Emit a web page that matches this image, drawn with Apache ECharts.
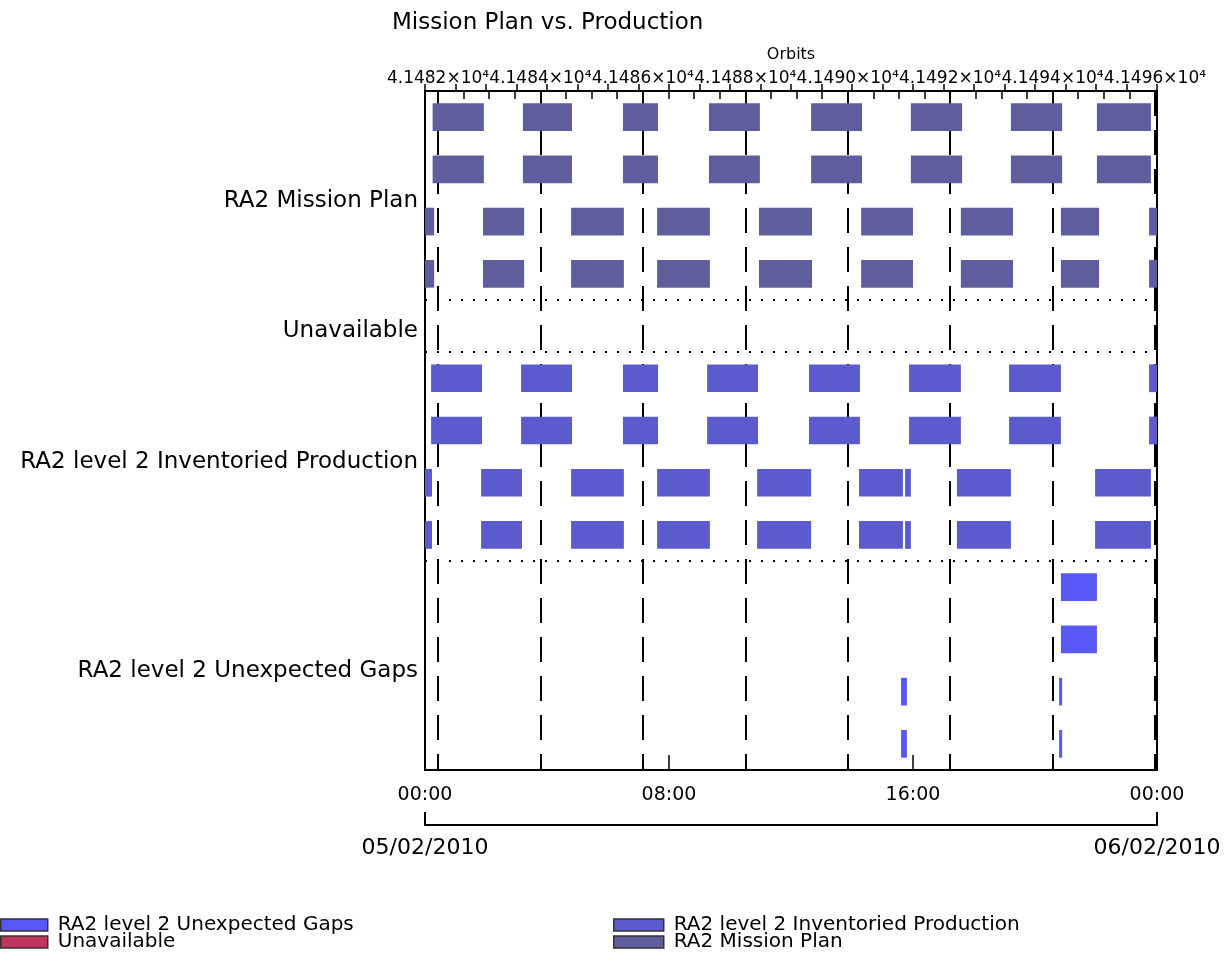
<!DOCTYPE html>
<html><head><meta charset="utf-8">
<script src="https://cdn.jsdelivr.net/npm/echarts@6/dist/echarts.min.js"></script>
<style>html,body{margin:0;padding:0;background:#fff}#c{width:1226px;height:964px}</style>
</head><body><div id="c"></div>
<script>
// ---------- data ----------
const chartTitle = 'Mission Plan vs. Production';
const groupNames = ['RA2 Mission Plan', 'Unavailable', 'RA2 level 2 Inventoried Production', 'RA2 level 2 Unexpected Gaps'];
const timeLabels = ['00:00', '08:00', '16:00', '00:00'];
const dateLabels = ['05/02/2010', '06/02/2010'];
const orbitAxisName = 'Orbits';
const firstOrbit = 41482;
const lastOrbit = 41496;
const firstOrbitHour = 0.426;      // hour of day at which orbit 41482 starts
const orbitPeriodHours = 1.679;    // orbit length in hours

// bars as [start hour, end hour] (05/02/2010)
const planTrackA = [[0.25,1.93],[3.21,4.82],[6.49,7.64],[9.31,10.98],[12.66,14.33],[15.93,17.61],[19.21,20.89],[22.03,23.80]];
const planTrackB = [[0,0.30],[1.90,3.25],[4.79,6.52],[7.61,9.34],[10.95,12.69],[14.30,16.00],[17.57,19.28],[20.85,22.10],[23.74,24]];
const unavailableTrack = [];
const prodTrackA = [[0.20,1.87],[3.15,4.82],[6.49,7.64],[9.25,10.92],[12.59,14.26],[15.87,17.57],[19.15,20.85],[23.74,24]];
const prodTrackB = [[0,0.23],[1.84,3.18],[4.79,6.52],[7.61,9.34],[10.89,12.66],[14.23,15.67],[15.74,15.93],[17.44,19.21],[21.97,23.80]];
const gapTrackA = [[20.85,22.03]];
const gapTrackB = [[15.61,15.80],[20.79,20.89]];

// each group lists its rows (tracks), top to bottom
const planRows = [planTrackA, planTrackA, planTrackB, planTrackB];
const unavailableRows = [unavailableTrack];
const prodRows = [prodTrackA, prodTrackA, prodTrackB, prodTrackB];
const gapRows = [gapTrackA, gapTrackA, gapTrackB, gapTrackB];

// ---------- build ----------
const FONT = 'DejaVu Sans';
const colors = {
  'RA2 Mission Plan': '#5e5e9c',
  'Unavailable': '#c2335f',
  'RA2 level 2 Inventoried Production': '#5b5bcd',
  'RA2 level 2 Unexpected Gaps': '#5858f4'
};
const groups = [planRows, unavailableRows, prodRows, gapRows];
const groupStart = [];
let acc = 0;
groups.forEach(g => { groupStart.push(acc); acc += g.length; });
const totalRows = acc;
const labelDrop = 0.1; // labels sit slightly below the middle of their band
const labelPos = groups.map((g, i) => groupStart[i] + g.length / 2 + labelDrop);
const separators = groupStart.slice(1);

const orbitMin = firstOrbit - firstOrbitHour / orbitPeriodHours;
const orbitMax = firstOrbit + (24 - firstOrbitHour) / orbitPeriodHours;
const orbitMajor = [], orbitMinor = [];
for (let o = firstOrbit; o <= lastOrbit + 1e-9; o += 2) orbitMajor.push(o);
for (let o = firstOrbit; o <= orbitMax; o += 0.5) orbitMinor.push(o);

function rowsToData(rows, start) {
  const out = [];
  rows.forEach((track, i) => track.forEach(([s, e]) => out.push([s, e, start + i])));
  return out;
}

function renderBar(params, api) {
  const s = api.value(0), e = api.value(1), r = api.value(2);
  const p0 = api.coord([s, r + 0.5]);
  const p1 = api.coord([e, r + 0.5]);
  const h = api.size([0, 1])[1] * 0.53;
  const cs = params.coordSys;
  const rect = echarts.graphic.clipRectByRect(
    { x: p0[0], y: p0[1] - h / 2, width: p1[0] - p0[0], height: h },
    { x: cs.x, y: cs.y, width: cs.width, height: cs.height });
  return rect && { type: 'rect', shape: rect, style: api.style() };
}

const series = groups.map((rows, gi) => ({
  type: 'custom',
  name: groupNames[gi],
  renderItem: renderBar,
  xAxisIndex: 0, yAxisIndex: 0,
  encode: { x: [0, 1], y: 2 },
  itemStyle: { color: colors[groupNames[gi]] },
  data: rowsToData(rows, groupStart[gi]),
  z: 3
}));
series.push({
  type: 'line', name: 'separators', data: [], xAxisIndex: 0, yAxisIndex: 0,
  markLine: {
    silent: true, symbol: 'none', label: { show: false },
    lineStyle: { type: [2, 10], color: '#000', width: 2 },
    data: separators.map(v => ({ yAxis: v }))
  }
});

const txt = { fontFamily: FONT, color: '#000' };
const legendCommon = {
  orient: 'vertical', icon: 'rect', itemHeight: 12, itemGap: -3, padding: 0, top: 915,
  itemStyle: { borderColor: '#333', borderWidth: 1.5 },
  textStyle: Object.assign({ fontSize: 20, padding: [0, 0, 0, 5] }, txt)
};
const chart = echarts.init(document.getElementById('c'));
chart.setOption({
  animation: false,
  backgroundColor: '#fff',
  title: { text: chartTitle, left: 392, top: 12, padding: 0, textStyle: Object.assign({ fontSize: 23, fontWeight: 'normal' }, txt) },
  grid: { left: 425, top: 91, width: 732, height: 679, show: true, borderColor: '#000', borderWidth: 2, backgroundColor: 'transparent' },
  legend: [
    Object.assign({ data: [groupNames[3], groupNames[1]], left: 0, itemWidth: 47 }, legendCommon),
    Object.assign({ data: [groupNames[2], groupNames[0]], left: 613, itemWidth: 50 }, legendCommon)
  ],
  xAxis: [
    { type: 'value', position: 'bottom', min: 0, max: 24, interval: 1,
      axisLine: { show: true, lineStyle: { color: '#000', width: 2 } },
      axisTick: { show: true, inside: true, length: 7, lineStyle: { color: '#000', width: 1.5 } },
      axisLabel: { show: false }, splitLine: { show: false } },
    { type: 'value', position: 'bottom', min: 0, max: 24, interval: 8,
      axisLine: { show: false },
      axisTick: { show: true, inside: true, length: 15, lineStyle: { color: '#000', width: 1.5 } },
      axisLabel: Object.assign({ show: true, margin: 16, fontSize: 19, formatter: v => timeLabels[Math.round(v / 8)] }, txt),
      splitLine: { show: false } },
    { type: 'value', position: 'bottom', offset: 55, min: 0, max: 24, interval: 24,
      axisLine: { show: true, lineStyle: { color: '#000', width: 2 } },
      axisTick: { show: true, inside: true, length: 13, lineStyle: { color: '#000', width: 2 } },
      axisLabel: Object.assign({ show: true, margin: 12, fontSize: 22, formatter: v => dateLabels[Math.round(v / 24)] }, txt),
      splitLine: { show: false } },
    { type: 'value', position: 'top', min: orbitMin, max: orbitMax,
      axisLine: { show: true, lineStyle: { color: '#000', width: 2 } },
      axisTick: { show: true, inside: true, length: 8, customValues: orbitMinor, lineStyle: { color: '#000', width: 1.5 } },
      axisLabel: { show: false }, splitLine: { show: false } },
    { type: 'value', position: 'top', min: orbitMin, max: orbitMax,
      name: orbitAxisName, nameLocation: 'middle', nameGap: 28, nameMoveOverlap: false,
      nameTextStyle: Object.assign({ fontSize: 16 }, txt),
      axisLine: { show: false },
      axisTick: { show: false, customValues: orbitMajor },
      axisLabel: Object.assign({ show: true, margin: 4, fontSize: 17, customValues: orbitMajor,
        formatter: v => (v / 1e4).toFixed(4) + '×10⁴' }, txt),
      splitLine: { show: true, lineStyle: { color: '#000', width: 2, type: [25, 14] } } }
  ],
  yAxis: [
    { type: 'value', inverse: true, min: 0, max: totalRows,
      axisLine: { show: true, lineStyle: { color: '#000', width: 2 } },
      axisTick: { show: false, customValues: labelPos },
      axisLabel: Object.assign({ show: true, margin: 7, fontSize: 23, customValues: labelPos,
        formatter: v => { const i = labelPos.findIndex(c => Math.abs(c - v) < 1e-6); return i >= 0 ? groupNames[i] : ''; } }, txt),
      splitLine: { show: false } }
  ],
  series: series
});
</script>
</body></html>
